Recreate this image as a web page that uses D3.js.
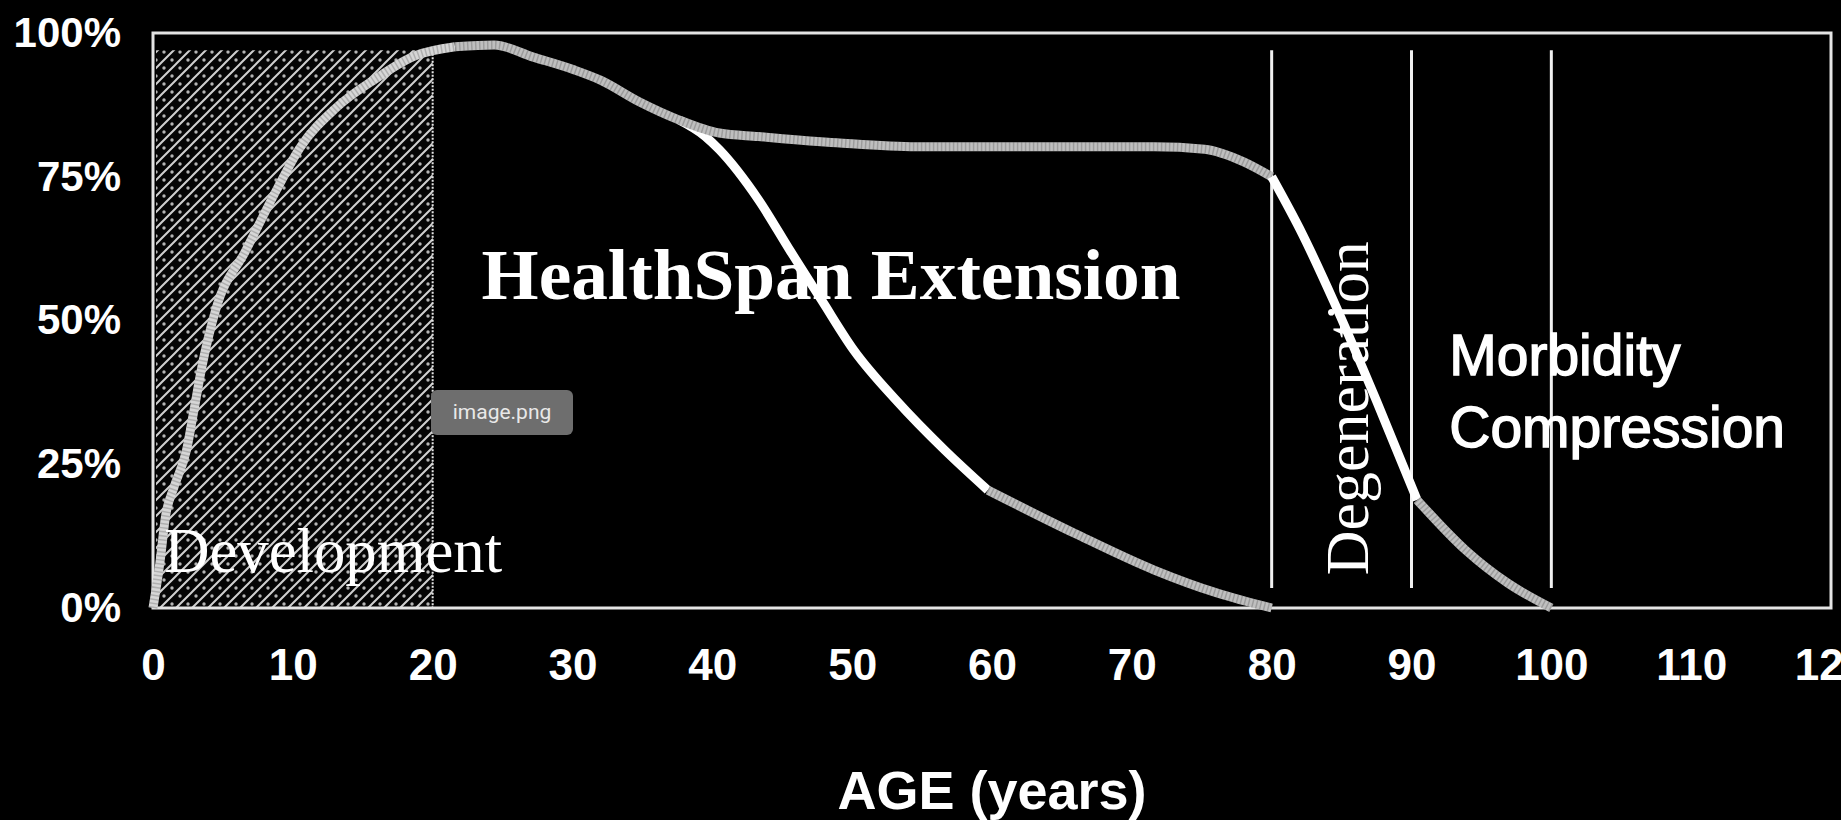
<!DOCTYPE html>
<html>
<head>
<meta charset="utf-8">
<script src="https://cdn.jsdelivr.net/npm/d3@7"></script>
<style>
  html, body { margin: 0; padding: 0; background: #000; }
  svg { display: block; }
</style>
</head>
<body>
<svg id="chart" width="1841" height="820"></svg>
<script>
// ---------------- DATA ----------------
const xTicks = [0, 10, 20, 30, 40, 50, 60, 70, 80, 90, 100, 110, 120];
const yTicks = [0, 0.25, 0.5, 0.75, 1];
const yTickLabels = ["0%", "25%", "50%", "75%", "100%"];

// Upper curve (development, healthspan extension, degeneration, compressed morbidity)
const upperAge = [0, 0.5, 0.9, 1.5, 2.4, 2.9, 3.5, 4.5, 6.6, 8.9, 10.5, 13.1, 15.9, 18.7, 21.6, 24.4,
                  27.2, 30.1, 32, 34.8, 37.6, 40.5, 43.3, 48.9, 54.6, 60.2, 65.9, 71.6, 75.2, 78,
                  80, 82.2, 84.5, 87.5, 90.4, 93.9, 96.9, 100];
const upperVal = [0.0, 0.08, 0.16, 0.21, 0.275, 0.34, 0.42, 0.52, 0.62, 0.73, 0.80, 0.87, 0.92, 0.96, 0.976, 0.979,
                  0.958, 0.936, 0.918, 0.88, 0.849, 0.826, 0.82, 0.809, 0.802, 0.802, 0.802, 0.802, 0.798, 0.776,
                  0.75, 0.65, 0.53, 0.36, 0.188, 0.10, 0.043, 0.0];

// Lower curve (normal ageing)
const lowerAge = [37.6, 39.5, 40.5, 43.3, 45.6, 47.8, 50.1, 53.2, 56.6, 59.7, 65.9, 71.6, 76.1, 80];
const lowerVal = [0.849, 0.82, 0.797, 0.71, 0.62, 0.536, 0.449, 0.36, 0.275, 0.205, 0.13, 0.066, 0.026, 0.0];

// Segment styles along each curve: [fromAge, toAge, tone]
const upperSegments = [[0, 22, "light"], [21.6, 80, "grey"], [80, 90.4, "white"], [90.4, 100, "grey"]];
const lowerSegments = [[37.6, 59.7, "white"], [59.7, 80, "grey"]];

// Phase boundaries (ages) and development span
const phaseLines = [80, 90, 100];
const phaseLineExtent = [0.035, 0.97];
const developmentSpan = [0, 20];
const developmentTop = 0.97;

// Annotations: [text, age, value]
const annHealth = ["HealthSpan Extension", 23.5, 0.537];
const annDevelopment = ["Development", 0.8, 0.063];
const annDegeneration = ["Degeneration", 86.9, 0.057];
const annMorbidity = [["Morbidity", 92.7, 0.405], ["Compression", 92.7, 0.28]];
const xTitle = "AGE (years)";

// ---------------- LAYOUT ----------------
const W = 1841, H = 820;
const plot = { left: 153, right: 1831, top: 33, bottom: 608 };

const svg = d3.select("#chart");
svg.append("rect").attr("width", W).attr("height", H).attr("fill", "#000");

const x = d3.scaleLinear().domain([0, 120]).range([plot.left, plot.right]);
const y = d3.scaleLinear().domain([0, 1]).range([plot.bottom, plot.top]);

// pattern for the development hatch
const defs = svg.append("defs");
const pat = defs.append("pattern")
  .attr("id", "hatch").attr("patternUnits", "userSpaceOnUse")
  .attr("width", 16).attr("height", 16);
pat.append("rect").attr("width", 16).attr("height", 16).attr("fill", "#050505");
pat.append("path")
  .attr("d", "M0,16 L16,0 M-4,4 L4,-4 M12,20 L20,12")
  .attr("stroke", "#cfcfcf").attr("stroke-width", 2).attr("fill", "none");
[[4, 4], [12, 12]].forEach(([cx, cy]) => {
  pat.append("circle").attr("cx", cx).attr("cy", cy).attr("r", 1.7).attr("fill", "#b5b5b5");
});

// Development hatched region
svg.append("rect")
  .attr("x", x(developmentSpan[0]) + 3)
  .attr("y", y(developmentTop))
  .attr("width", x(developmentSpan[1]) - x(developmentSpan[0]) - 3)
  .attr("height", y(0) - y(developmentTop))
  .attr("fill", "url(#hatch)");
svg.append("line")
  .attr("x1", x(developmentSpan[1])).attr("x2", x(developmentSpan[1]))
  .attr("y1", y(developmentTop)).attr("y2", y(0))
  .attr("stroke", "#e6e6e6").attr("stroke-width", 2).attr("stroke-dasharray", "2,1.5");

// Frame
svg.append("rect")
  .attr("x", x(0)).attr("y", y(1))
  .attr("width", x(120) - x(0)).attr("height", y(0) - y(1))
  .attr("fill", "none").attr("stroke", "#e4e4e4").attr("stroke-width", 3);

// Phase lines
svg.selectAll("line.phase").data(phaseLines).enter().append("line")
  .attr("class", "phase")
  .attr("x1", d => x(d)).attr("x2", d => x(d))
  .attr("y1", y(phaseLineExtent[1])).attr("y2", y(phaseLineExtent[0]))
  .attr("stroke", "#f0f0f0").attr("stroke-width", 3);

// Axes
const xAxis = d3.axisBottom(x).tickValues(xTicks).tickSize(0).tickPadding(41).tickFormat(d3.format("d"));
const gx = svg.append("g").attr("transform", `translate(0,${plot.bottom})`).call(xAxis);
gx.select(".domain").remove();
gx.selectAll("text").attr("fill", "#fff")
  .style("font-family", "'Liberation Sans', Arial, sans-serif")
  .style("font-weight", "bold").style("font-size", "44px");

const yAxis = d3.axisLeft(y).tickValues(yTicks).tickSize(0).tickPadding(32)
  .tickFormat((d, i) => yTickLabels[i]);
const gy = svg.append("g").attr("transform", `translate(${plot.left},0)`).call(yAxis);
gy.select(".domain").remove();
gy.selectAll("text").attr("fill", "#fff")
  .style("font-family", "'Liberation Sans', Arial, sans-serif")
  .style("font-weight", "bold").style("font-size", "42px");

// Curves
const tones = { light: "#d6d6d6", grey: "#bfbfbf", white: "#ffffff" };
const line = d3.line().x(d => x(d[0])).y(d => y(d[1])).curve(d3.curveMonotoneX);
function segPoints(ages, vals, a0, a1) {
  return ages.map((a, i) => [a, vals[i]]).filter(p => p[0] >= a0 - 1e-9 && p[0] <= a1 + 1e-9);
}
function drawSegments(ages, vals, segs) {
  segs.forEach(([a0, a1, tone]) => {
    const pts = segPoints(ages, vals, a0, a1);
    svg.append("path").attr("d", line(pts))
      .attr("fill", "none").attr("stroke", tones[tone])
      .attr("stroke-width", 9).attr("stroke-linejoin", "round").attr("stroke-linecap", "butt");
    if (tone !== "white") {
      svg.append("path").attr("d", line(pts))
        .attr("fill", "none").attr("stroke", "#000").attr("stroke-opacity", 0.18)
        .attr("stroke-width", 9).attr("stroke-dasharray", "1.5,2.5");
    }
  });
}
drawSegments(lowerAge, lowerVal, lowerSegments);
drawSegments(upperAge, upperVal, upperSegments);

// Annotations
const serif = "'Liberation Serif', 'Times New Roman', serif";
const sans = "'Liberation Sans', Arial, sans-serif";

svg.append("text").text(annHealth[0])
  .attr("x", x(annHealth[1])).attr("y", y(annHealth[2]))
  .attr("fill", "#fff").style("font-family", serif).style("font-weight", "bold")
  .style("font-size", "72px").attr("textLength", 699).attr("lengthAdjust", "spacingAndGlyphs");

svg.append("text").text(annDevelopment[0])
  .attr("x", x(annDevelopment[1])).attr("y", y(annDevelopment[2]))
  .attr("fill", "#fff").style("font-family", serif)
  .style("font-size", "63px").attr("textLength", 338).attr("lengthAdjust", "spacingAndGlyphs");

svg.append("text").text(annDegeneration[0])
  .attr("transform", `translate(${x(annDegeneration[1])},${y(annDegeneration[2])}) rotate(-90)`)
  .attr("fill", "#fff").style("font-family", serif)
  .style("font-size", "62px").attr("textLength", 334).attr("lengthAdjust", "spacingAndGlyphs");

annMorbidity.forEach(([t, a, v]) => {
  svg.append("text").text(t)
    .attr("x", x(a)).attr("y", y(v))
    .attr("fill", "#fff").attr("stroke", "#fff").attr("stroke-width", 1.4)
    .style("font-family", sans)
    .style("font-size", "57px");
});

svg.append("text").text(xTitle)
  .attr("x", (plot.left + plot.right) / 2).attr("y", 809)
  .attr("text-anchor", "middle").attr("fill", "#fff")
  .style("font-family", sans).style("font-weight", "bold").style("font-size", "54px");

// Screenshot tooltip badge visible in the reference
const badge = svg.append("g").attr("transform", "translate(431,390)");
badge.append("rect").attr("width", 142).attr("height", 45).attr("rx", 6).attr("fill", "#6e6e6e");
badge.append("text").text("image.png").attr("x", 71).attr("y", 29)
  .attr("text-anchor", "middle").attr("fill", "#e8e8e8")
  .style("font-family", "Roboto, 'Noto Sans', sans-serif").style("font-size", "21px");
</script>
</body>
</html>
